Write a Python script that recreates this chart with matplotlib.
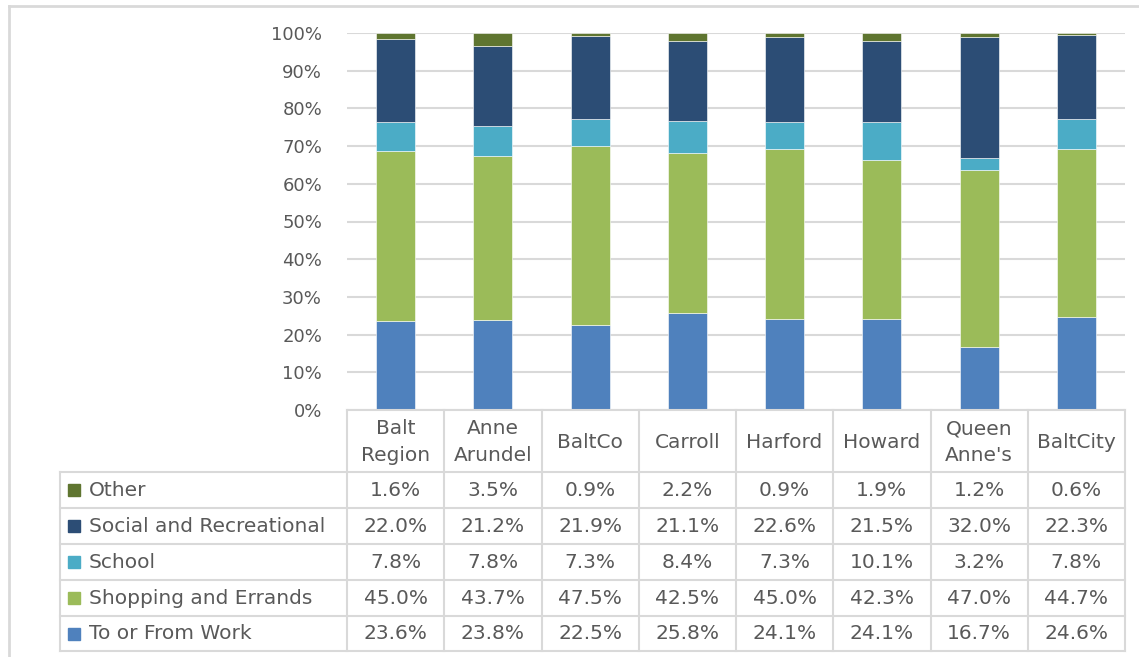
import matplotlib.pyplot as plt
from matplotlib.lines import Line2D
from matplotlib.patches import Rectangle
import numpy as np

regions = ["Balt\nRegion", "Anne\nArundel", "BaltCo", "Carroll", "Harford",
           "Howard", "Queen\nAnne's", "BaltCity"]

# bottom to top stacking order
series = ["To or From Work", "Shopping and Errands", "School",
          "Social and Recreational", "Other"]
work = [23.6, 23.8, 22.5, 25.8, 24.1, 24.1, 16.7, 24.6]
shopping = [45.0, 43.7, 47.5, 42.5, 45.0, 42.3, 47.0, 44.7]
school = [7.8, 7.8, 7.3, 8.4, 7.3, 10.1, 3.2, 7.8]
social = [22.0, 21.2, 21.9, 21.1, 22.6, 21.5, 32.0, 22.3]
other = [1.6, 3.5, 0.9, 2.2, 0.9, 1.9, 1.2, 0.6]
colors = ["#4f81bd", "#9bbb59", "#4bacc6", "#2c4d75", "#5f7530"]

W, H = 1139, 657
grid_c = "#d9d9d9"
text_c = "#595959"
fs_axis = 13
fs_tab = 14.5

fig = plt.figure(figsize=(W / 100, H / 100), dpi=100)

# pixel geometry of the plot area
px_left, px_right, px_top, px_bottom = 347, 1125, 33, 410
ax = fig.add_axes([px_left / W, 1 - px_bottom / H,
                   (px_right - px_left) / W, (px_bottom - px_top) / H])

x = np.arange(len(regions))
bottom = np.zeros(len(regions))
for vals, col in zip([work, shopping, school, social, other], colors):
    ax.bar(x, vals, bottom=bottom, width=0.4, color=col,
           edgecolor="white", linewidth=0.4, zorder=3)
    bottom += np.array(vals)

ax.set_xlim(-0.5, len(regions) - 0.5)
ax.set_ylim(0, 100)
ax.set_yticks(range(0, 101, 10))
ax.set_yticklabels([f"{v}%" for v in range(0, 101, 10)])
ax.set_xticks([])
ax.tick_params(axis="y", length=0, pad=18, labelsize=fs_axis, labelcolor=text_c)
for s in ax.spines.values():
    s.set_visible(False)
ax.yaxis.grid(True, color=grid_c, linewidth=1.5, zorder=0)
ax.set_axisbelow(True)

# overlay in pixel coordinates for the data table
ov = fig.add_axes([0, 0, 1, 1], zorder=5)
ov.set_xlim(0, W)
ov.set_ylim(H, 0)
ov.axis("off")
ov.patch.set_alpha(0)

colw = (px_right - px_left) / len(regions)
label_left = 60
row_y = [410, 472, 508, 544, 580, 616, 651]
lw = 1.5

# horizontal lines
ov.add_line(Line2D([px_left, px_right], [row_y[0]] * 2, color=grid_c, lw=lw))
for y in row_y[1:]:
    ov.add_line(Line2D([label_left, px_right], [y, y], color=grid_c, lw=lw))
# vertical lines
for i in range(len(regions) + 1):
    xx = px_left + i * colw
    ov.add_line(Line2D([xx, xx], [row_y[0], row_y[-1]], color=grid_c, lw=lw))
ov.add_line(Line2D([label_left, label_left], [row_y[1], row_y[-1]],
                   color=grid_c, lw=lw))

# header labels
for i, r in enumerate(regions):
    ov.text(px_left + (i + 0.5) * colw, (row_y[0] + row_y[1]) / 2 + 1, r,
            ha="center", va="center", fontsize=fs_tab, color=text_c,
            linespacing=1.5)

# rows: top row is the last series
table_rows = list(zip(series, [work, shopping, school, social, other], colors))[::-1]
for k, (name, vals, col) in enumerate(table_rows):
    yc = (row_y[k + 1] + row_y[k + 2]) / 2
    ov.add_patch(Rectangle((68, yc - 6), 12, 12, color=col))
    ov.text(89, yc, name, ha="left", va="center", fontsize=fs_tab, color=text_c)
    for i, v in enumerate(vals):
        ov.text(px_left + (i + 0.5) * colw, yc, f"{v:.1f}%", ha="center",
                va="center", fontsize=fs_tab, color=text_c)

# chart frame edge
ov.add_line(Line2D([9, W], [6, 6], color=grid_c, lw=2))
ov.add_line(Line2D([9, 9], [6, H], color=grid_c, lw=2))

fig.savefig("out.png", dpi=100)
